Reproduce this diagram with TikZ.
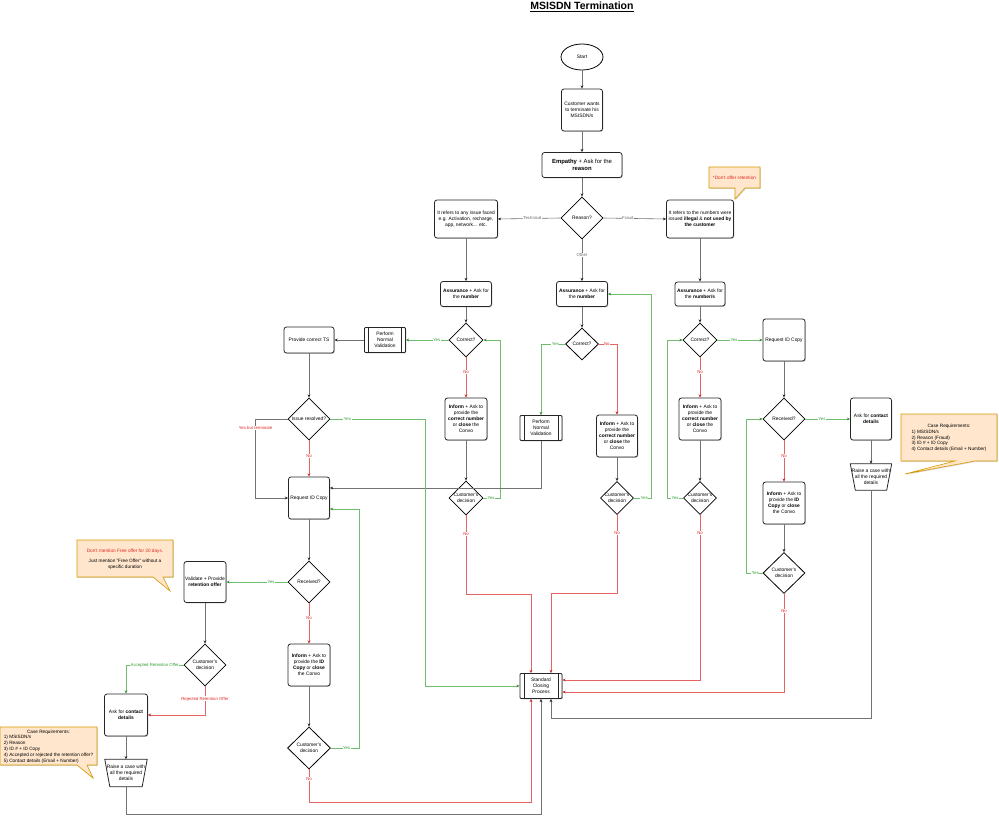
\documentclass[tikz,border=0pt]{standalone}
\usepackage{fontspec}
\setmainfont{Liberation Sans}
\usetikzlibrary{arrows.meta,shapes.geometric,shadows,calc}
\definecolor{lgreen}{RGB}{110,190,110}
\definecolor{dgreen}{RGB}{60,140,60}
\definecolor{tgreen}{RGB}{50,160,50}
\definecolor{lred}{RGB}{228,100,100}
\definecolor{dred}{RGB}{200,40,40}
\definecolor{tred}{RGB}{225,40,40}
\definecolor{notefill}{RGB}{255,230,204}
\definecolor{notedraw}{RGB}{215,155,0}
\newcommand{\dmtext}[1]{\makebox[0pt]{\begin{tabular}{@{}c@{}}#1\end{tabular}}}
\begin{document}
\begin{tikzpicture}[x=1pt,y=-1pt,
  fs/.style={font=\fontsize{4.9}{5.9}\selectfont},
  sz/.style 2 args={minimum width=#1, minimum height=#2},
  box/.style={fs, draw=black!85, line width=0.8pt, rounded corners=2.5pt, fill=white, align=center, inner sep=0.5pt,
    drop shadow={shadow xshift=0.8pt, shadow yshift=-0.9pt, opacity=0.35, fill=black!60}},
  proc/.style={box, rounded corners=1pt,
    path picture={\draw[line width=0.7pt] ([xshift=4pt]path picture bounding box.north west) -- ([xshift=4pt]path picture bounding box.south west);
                  \draw[line width=0.7pt] ([xshift=-4pt]path picture bounding box.north east) -- ([xshift=-4pt]path picture bounding box.south east);}},
  dia/.style={fs, diamond, draw=black, line width=0.8pt, fill=white, inner sep=0pt, aspect=1},
  term/.style={fs, ellipse, draw=black, line width=0.8pt, fill=white, inner sep=0pt},
  trapbox/.style={fs, rectangle, inner sep=0pt, align=center},
  trapline/.style={draw=black!85, line width=0.8pt, line join=round},
  gy/.style={line width=0.6pt, draw=black!55, -{Stealth[length=3.2pt,width=2.8pt,color=black!85]}},
  gn/.style={line width=0.6pt, draw=lgreen, -{Stealth[length=3.2pt,width=2.8pt,color=dgreen]}},
  rd/.style={line width=0.6pt, draw=lred, -{Stealth[length=3.2pt,width=2.8pt,color=dred]}},
  lab/.style={font=\fontsize{4.3}{5}\selectfont, fill=white, inner sep=0.5pt},
  glab/.style={lab, text=tgreen},
  rlab/.style={lab, text=tred},
  ylab/.style={lab, text=black!60},
  notest/.style={fill=notefill, draw=notedraw, line width=0.6pt,
    drop shadow={shadow xshift=0.8pt, shadow yshift=-0.9pt, opacity=0.3, fill=black!50}},
  notetext/.style={font=\fontsize{4.7}{5.8}\selectfont, inner sep=0pt, align=center}
]
\fill[white] (0,0) rectangle (999,819);
\useasboundingbox (0,0) rectangle (999,819);

% title
\node[font=\fontsize{10.5}{12}\selectfont\bfseries] (title) at (582,7) {\underline{MSISDN Termination}};

% top column
\node[term, sz={42pt}{26pt}] (start) at (582,57) {Start};
\node[box, sz={41pt}{42pt}] (cw) at (582,110) {Customer wants\\to terminate his\\MSISDN/s};
\node[box, sz={80pt}{25pt}, font=\fontsize{5.9}{7}\selectfont] (emp) at (582,165) {\textbf{Empathy} + Ask for the\\\textbf{reason}};
\node[dia, sz={42pt}{42pt}] (reason) at (582,218) {\dmtext{Reason?}};
\node[box, sz={63pt}{38pt}] (tech) at (466,219) {It refers to any issue faced\\e.g. Activation, recharge,\\app, network... etc.};
\node[box, sz={67pt}{38pt}] (fraud) at (700,219) {It refers to the numbers were\\issued \textbf{illegal} \& \textbf{not used by}\\\textbf{the customer}};

\node[box, sz={51pt}{25pt}] (asl) at (466,294) {\textbf{Assurance} + Ask for\\the \textbf{number}};
\node[box, sz={51pt}{25pt}] (asm) at (582,294) {\textbf{Assurance} + Ask for\\the \textbf{number}};
\node[box, sz={50pt}{24pt}] (asr) at (700,294) {\textbf{Assurance} + Ask for\\the \textbf{number/s}};

\node[dia, sz={34pt}{34pt}] (cl) at (466,340) {\dmtext{Correct?}};
\node[dia, sz={33pt}{32pt}] (cm) at (582,344) {\dmtext{Correct?}};
\node[dia, sz={34pt}{34pt}] (cr) at (700,340) {\dmtext{Correct?}};

% left technical branch
\node[proc, sz={41pt}{25pt}] (pnvl) at (385,340) {Perform\\Normal\\Validation};
\node[box, sz={50pt}{26pt}] (pts) at (309,340) {Provide correct TS};
\node[box, sz={42pt}{42pt}] (infl) at (466,419) {\textbf{Inform} + Ask to\\provide the\\\textbf{correct number}\\or \textbf{close} the\\Convo};
\node[dia, sz={34pt}{34pt}] (cdl) at (466,498) {\dmtext{Customer's\\decision}};
\node[dia, sz={42pt}{42pt}] (ir) at (309,419) {\dmtext{Issue resolved?}};
\node[box, sz={41pt}{42pt}] (rid) at (309,498) {Request ID Copy};

% middle branch
\node[proc, sz={42pt}{25pt}] (pnvm) at (541,428) {Perform\\Normal\\Validation};
\node[box, sz={41pt}{42pt}] (infm) at (617,436) {\textbf{Inform} + Ask to\\provide the\\\textbf{correct number}\\or \textbf{close} the\\Convo};
\node[dia, sz={33pt}{33pt}] (cdm) at (617,498) {\dmtext{Customer's\\decision}};

% right fraud branch
\node[box, sz={42pt}{42pt}] (infr) at (700,419) {\textbf{Inform} + Ask to\\provide the\\\textbf{correct number}\\or \textbf{close} the\\Convo};
\node[dia, sz={33pt}{33pt}] (cdr) at (700,498) {\dmtext{Customer's\\decision}};
\node[box, sz={42pt}{42pt}] (ridr) at (784,340) {Request ID Copy};
\node[dia, sz={42pt}{42pt}] (rcvr) at (784,419) {\dmtext{Received?}};
\node[box, sz={41pt}{42pt}] (askr) at (871,419) {Ask for \textbf{contact}\\\textbf{details}};
\node[box, sz={42pt}{42pt}] (infr2) at (784,503) {\textbf{Inform} + Ask to\\provide the \textbf{ID}\\\textbf{Copy} or \textbf{close}\\the Convo};
\node[dia, sz={42pt}{41pt}] (cdr2) at (784,573) {\dmtext{Customer's\\decision}};
\node[trapbox, sz={41pt}{26pt}] (raser) at (871,477) {\dmtext{Raise a case with\\all the required\\details}};
\draw[trapline] (raser.north west) -- (raser.north east) -- ([xshift=-5pt]raser.south east) -- ([xshift=5pt]raser.south west) -- cycle;

% lower left
\node[dia, sz={42pt}{42pt}] (rcvl) at (309,582) {\dmtext{Received?}};
\node[box, sz={42pt}{41pt}] (val) at (205,582) {Validate + Provide\\\textbf{retention offer}};
\node[box, sz={42pt}{42pt}] (infl2) at (309,665) {\textbf{Inform} + Ask to\\provide the \textbf{ID}\\\textbf{Copy} or \textbf{close}\\the Convo};
\node[dia, sz={43pt}{42pt}] (cdl2) at (309,748) {\dmtext{Customer's\\decision}};
\node[dia, sz={42pt}{42pt}] (cdv) at (205,665) {\dmtext{Customer's\\decision}};
\node[box, sz={43pt}{42pt}] (askl) at (126,715) {Ask for \textbf{contact}\\\textbf{details}};
\node[trapbox, sz={42pt}{27pt}] (rasel) at (126,773) {\dmtext{Raise a case with\\all the required\\details}};
\draw[trapline] (rasel.north west) -- (rasel.north east) -- ([xshift=-5pt]rasel.south east) -- ([xshift=5pt]rasel.south west) -- cycle;

\node[proc, sz={42pt}{25pt}] (scp) at (541,686) {Standard\\Closing\\Process};

% notes
\path[notest] (709,167) -- (760,167) -- (760,188) -- (745,188) -- (735,199) -- (735,188) -- (709,188) -- cycle;
\node[notetext, text=tred] (n1) at (734.5,177.5) {*Don't offer retention};
\path[notest] (901,414) -- (997,414) -- (997,461) -- (975,461) -- (905,474) -- (955,461) -- (901,461) -- cycle;
\node[notetext] (n2) at (949,438) {\begin{tabular}{@{}l@{}}\multicolumn{1}{@{}c@{}}{Case Requirements:}\\1) MSISDN/s\\2) Reason (Fraud)\\3) ID \# + ID Copy\\4) Contact details (Email + Number)\end{tabular}};
\path[notest] (77,540) -- (173,540) -- (173,577) -- (163,577) -- (170,591) -- (153,577) -- (77,577) -- cycle;
\node[notetext] (n3) at (125,559) {{\color{tred}Don't mention Free offer for 30 days.}\\[4pt]Just mention "Free Offer" without a\\specific duration};
\path[notest] (0,727) -- (97,727) -- (97,765) -- (87,765) -- (93,778) -- (77,765) -- (0,765) -- cycle;
\node[notetext] (n4) at (48.5,746.5) {\begin{tabular}{@{}l@{}}\multicolumn{1}{@{}c@{}}{Case Requirements:}\\1) MSISDN/s\\2) Reason\\3) ID \# + ID Copy\\4) Accepted or rejected the retention offer?\\5) Contact details (Email + Number)\end{tabular}};

% ---- connectors ----
\draw[gy] (start.south) -- (cw.north);
\draw[gy] (cw.south) -- (emp.north);
\draw[gy] (emp.south) -- (reason.north);
\draw[gy] (reason.west) -- node[ylab,pos=0.45]{Technical} (tech.east);
\draw[gy] (reason.east) -- node[ylab,pos=0.39]{Fraud} (fraud.west);
\draw[gy] (reason.south) -- node[ylab,pos=0.38]{Other} (asm.north);
\draw[gy] (tech.south) -- (asl.north);
\draw[gy] (fraud.south) -- (asr.north);
\draw[gy] (asl.south) -- (cl.north);
\draw[gy] (asm.south) -- (cm.north);
\draw[gy] (asr.south) -- (cr.north);

% left technical
\draw[gn] (cl.west) -- node[glab,pos=0.28]{Yes} (pnvl.east);
\draw[gy] (pnvl.west) -- (pts.east);
\draw[gy] (pts.south) -- (ir.north);
\draw[rd] (cl.south) -- node[rlab,pos=0.37]{No} (infl.north);
\draw[gy] (infl.south) -- (cdl.north);
\draw[gn] (cdl.east) -- node[glab,pos=0.45]{Yes} ++(17,0) |- (cl.east);
\draw[rd] (cdl.south) -- node[rlab,pos=0.23]{No} ++(0,79) -| ([xshift=-10pt]scp.north);

% middle
\draw[gn] (cm.west) -| node[glab,pos=0.2]{Yes} (pnvm.north);
\draw[rd] (cm.east) -| node[rlab,pos=0.22]{No} (infm.north);
\draw[gy] (pnvm.south) |- ([yshift=10pt]rid.east);
\draw[gy] (infm.south) -- (cdm.north);
\draw[gn] (cdm.east) -- node[glab,pos=0.62]{Yes} ++(17,0) |- (asm.east);
\draw[rd] (cdm.south) -- node[rlab,pos=0.23]{No} ++(0,78) -| ([xshift=10pt]scp.north);

% right fraud
\draw[gn] (cr.east) -- node[glab,pos=0.37]{Yes} (ridr.west);
\draw[rd] (cr.south) -- node[rlab,pos=0.37]{No} (infr.north);
\draw[gy] (infr.south) -- (cdr.north);
\draw[gn] (cdr.west) -- node[glab,pos=0.5]{Yes} ++(-16,0) |- (cr.west);
\draw[rd] (cdr.south) |- node[rlab,pos=0.056]{No} ([yshift=6pt]scp.east);
\draw[gy] (ridr.south) -- (rcvr.north);
\draw[gn] (rcvr.east) -- node[glab,pos=0.37]{Yes} (askr.west);
\draw[rd] (rcvr.south) -- node[rlab,pos=0.38]{No} (infr2.north);
\draw[gy] (infr2.south) -- (cdr2.north);
\draw[gn] (cdr2.west) -- node[glab,pos=0.45]{Yes} ++(-16,0) |- (rcvr.west);
\draw[rd] (cdr2.south) |- node[rlab,pos=0.085]{No} ([yshift=-6pt]scp.east);
\draw[gy] (askr.south) -- (raser.north);
\draw[gy] ([xshift=0pt]raser.south) -- ++(0,228) -| ([xshift=10pt]scp.south);

% lower left
\draw[gn] (ir.east) -- node[glab,pos=0.18]{Yes} ++(95,0) |- (scp.west);
\draw[rd] (ir.south) -- node[rlab,pos=0.43]{No} (rid.north);
\draw[gy] (ir.west) -- ++(-32,0) |- node[rlab,pos=0.057]{Yes but terminate} (rid.west);
\draw[gy] (rid.south) -- (rcvl.north);
\draw[gn] (rcvl.west) -- node[glab,pos=0.27]{Yes} (val.east);
\draw[rd] (rcvl.south) -- node[rlab,pos=0.37]{No} (infl2.north);
\draw[gy] (infl2.south) -- (cdl2.north);
\draw[gn] (cdl2.east) -- node[glab,pos=0.55]{Yes} ++(28.5,0) |- ([yshift=-11pt]rid.east);
\draw[rd] (cdl2.south) -- node[rlab,pos=0.3]{No} ++(0,33) -| ([xshift=-10pt]scp.south);
\draw[gy] (val.south) -- (cdv.north);
\draw[gn] (cdv.west) -| node[glab,pos=0.25]{Accepted Retention Offer} (askl.north);
\draw[rd] (cdv.south) |- node[rlab,pos=0.22]{Rejected Retention Offer} (askl.east);
\draw[gy] (askl.south) -- (rasel.north);
\draw[gy] (rasel.south) -- ++(0,28) -| (scp.south);
\end{tikzpicture}
\end{document}
